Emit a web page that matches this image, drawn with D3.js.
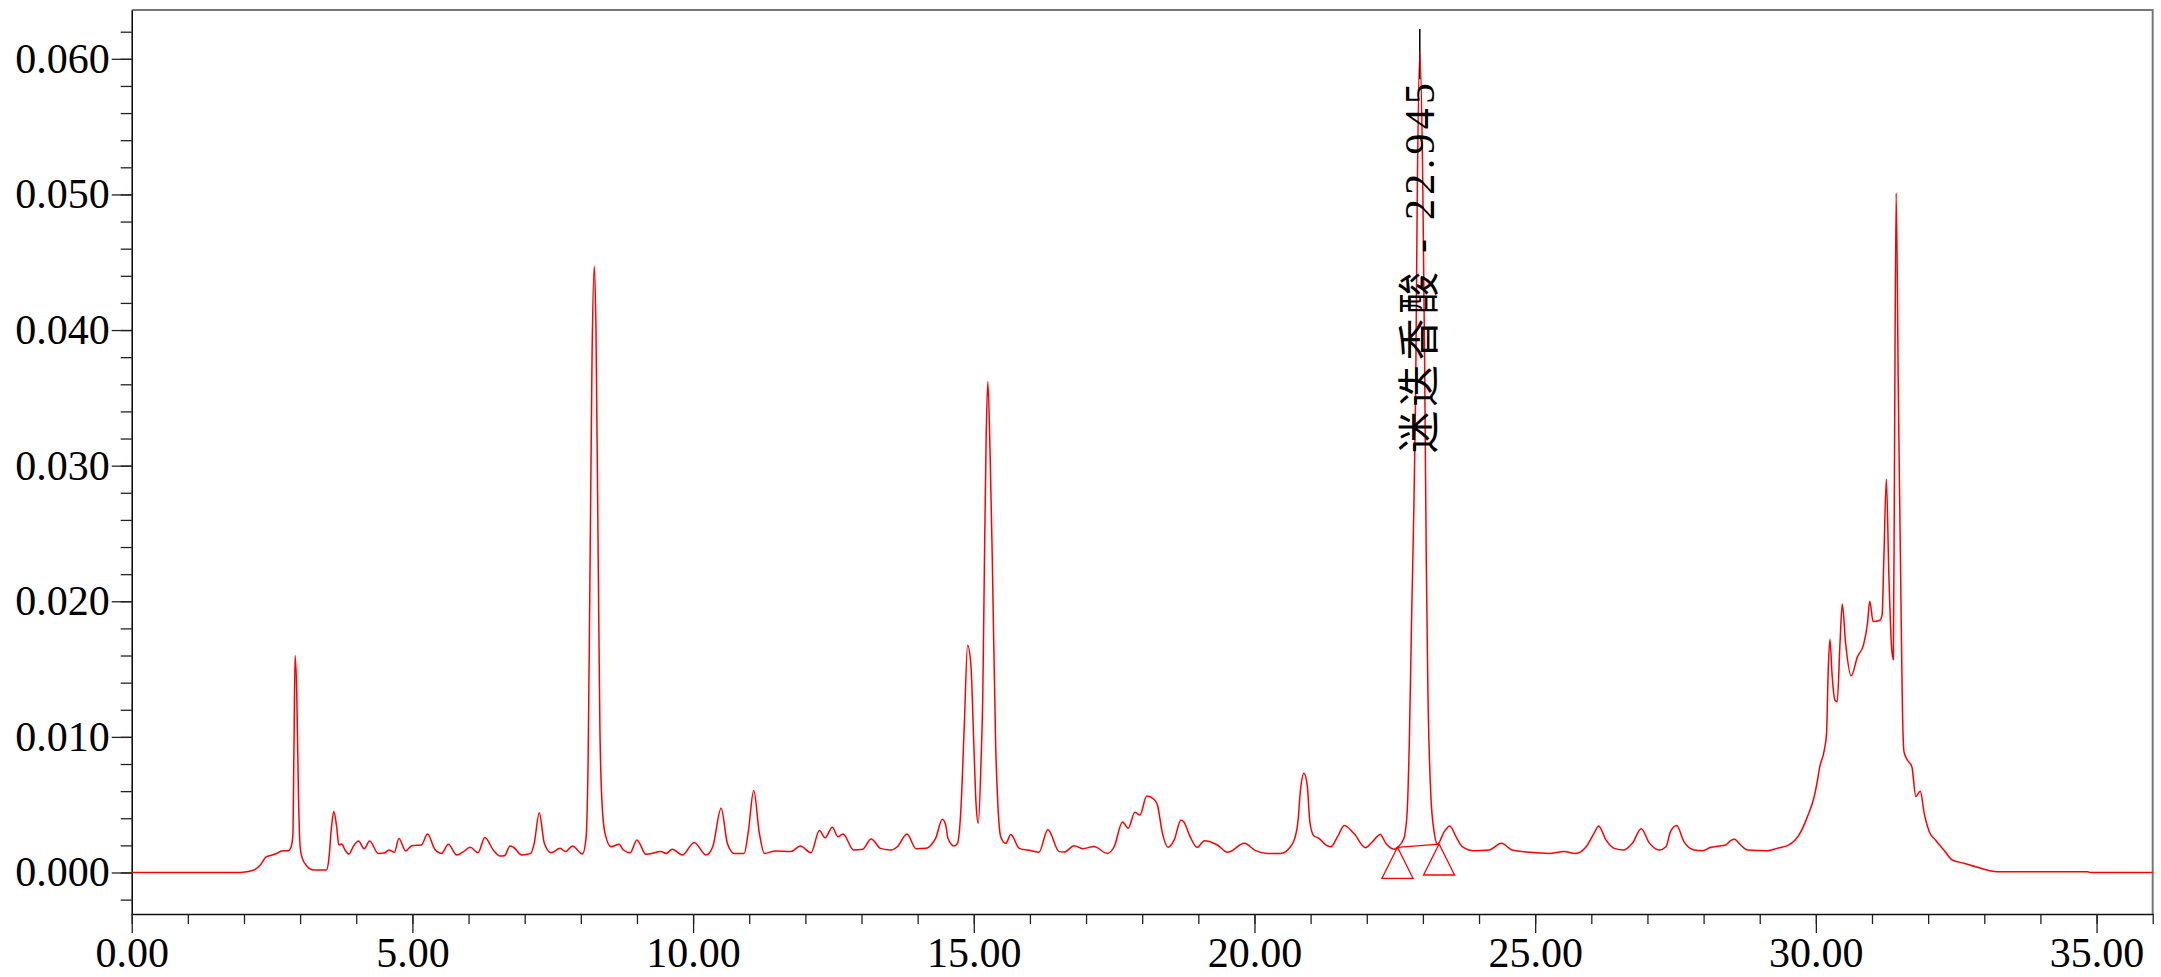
<!DOCTYPE html>
<html lang="zh">

<head>
    <meta charset="UTF-8">
    <title>Chromatogram</title>
    <style>
        body { margin: 0; background: #fff; }
    </style>
</head>

<body>
    <svg id="svg" width="2161" height="977"></svg>

    <script src="https://d3js.org/d3.v7.min.js"></script>
    <script>
        // retention time (min) and detector response (AU)
        const times = [
            0.00, 1.93, 2.05, 2.20, 2.29, 2.40, 2.49, 2.61, 2.67, 2.79, 2.84, 2.87, 2.89, 2.91, 2.94, 2.97,
            3.00, 3.04, 3.12, 3.24, 3.47, 3.51, 3.56, 3.60, 3.65, 3.69, 3.74, 3.80, 3.87, 3.95, 4.04, 4.14,
            4.24, 4.39, 4.51, 4.58, 4.68, 4.76, 4.88, 4.99, 5.16, 5.27, 5.40, 5.52, 5.64, 5.79, 5.91, 6.03,
            6.17, 6.29, 6.44, 6.56, 6.64, 6.74, 6.80, 6.95, 7.06, 7.11, 7.17, 7.26, 7.35, 7.47, 7.63, 7.73,
            7.85, 8.03, 8.09, 8.13, 8.16, 8.20, 8.24, 8.27, 8.31, 8.34, 8.37, 8.43, 8.54, 8.68, 8.76, 8.88,
            9.00, 9.16, 9.43, 9.52, 9.63, 9.81, 10.02, 10.23, 10.35, 10.50, 10.61, 10.73, 10.91, 10.98, 11.08, 11.18,
            11.27, 11.47, 11.74, 11.91, 12.10, 12.25, 12.35, 12.48, 12.58, 12.67, 12.86, 13.02, 13.17, 13.34, 13.52, 13.64,
            13.81, 13.97, 14.15, 14.24, 14.32, 14.44, 14.50, 14.54, 14.65, 14.71, 14.77, 14.83, 14.89, 14.95, 15.00, 15.04,
            15.08, 15.13, 15.16, 15.19, 15.22, 15.25, 15.29, 15.33, 15.39, 15.42, 15.48, 15.57, 15.66, 15.81, 16.02, 16.16,
            16.32, 16.52, 16.61, 16.79, 16.94, 17.14, 17.38, 17.50, 17.65, 17.75, 17.87, 17.96, 18.08, 18.21, 18.27, 18.36,
            18.46, 18.57, 18.69, 18.75, 18.84, 18.98, 19.11, 19.34, 19.52, 19.82, 20.02, 20.23, 20.47, 20.68, 20.77, 20.82,
            20.88, 20.94, 20.99, 21.06, 21.15, 21.27, 21.36, 21.48, 21.60, 21.77, 21.98, 22.10, 22.24, 22.34, 22.49, 22.55,
            22.66, 22.72, 22.76, 22.80, 22.83, 22.87, 22.90, 22.945, 23.00, 23.03, 23.06, 23.09, 23.14, 23.20, 23.26, 23.38,
            23.48, 23.59, 23.70, 23.91, 24.18, 24.40, 24.59, 24.92, 25.25, 25.51, 25.72, 25.90, 26.05, 26.13, 26.26, 26.41,
            26.58, 26.73, 26.89, 27.03, 27.21, 27.33, 27.41, 27.52, 27.65, 27.83, 27.98, 28.13, 28.27, 28.39, 28.48, 28.55,
            28.66, 28.78, 29.14, 29.31, 29.52, 29.70, 29.85, 29.97, 30.02, 30.07, 30.15, 30.19, 30.22, 30.25, 30.29, 30.34,
            30.38, 30.43, 30.47, 30.53, 30.63, 30.74, 30.85, 30.92, 30.96, 31.02, 31.14, 31.18, 31.21, 31.255, 31.30, 31.35,
            31.38, 31.40, 31.43, 31.47, 31.51, 31.54, 31.57, 31.63, 31.71, 31.78, 31.86, 31.93, 32.02, 32.13, 32.28, 32.43,
            32.64, 32.88, 33.23, 34.84, 34.89, 36.00
        ]
        const response = [
            0, 0, 0.00006, 0.00023, 0.00055, 0.00117, 0.00127, 0.00146, 0.00159, 0.00161, 0.0019, 0.0027, 0.009, 0.0160, 0.0132, 0.0058,
            0.0019, 0.00104, 0.00048, 0.00018, 0.00018, 0.00092, 0.0034, 0.00449, 0.0034, 0.00203, 0.0021, 0.00166, 0.00136, 0.00195, 0.00232, 0.00176,
            0.00232, 0.00141, 0.00146, 0.00166, 0.00149, 0.0025, 0.00159, 0.00198, 0.00203, 0.00284, 0.00171, 0.00141, 0.00208, 0.00129, 0.00154, 0.00186,
            0.00146, 0.00259, 0.00166, 0.00122, 0.00124, 0.00195, 0.00186, 0.00129, 0.00136, 0.00141, 0.00215, 0.00441, 0.00215, 0.00146, 0.00178, 0.00154,
            0.00195, 0.00136, 0.0024, 0.0083, 0.0206, 0.038, 0.0447, 0.040, 0.023, 0.0107, 0.0058, 0.0029, 0.0019, 0.00208, 0.00166, 0.00146,
            0.0024, 0.00134, 0.00154, 0.00141, 0.00171, 0.00129, 0.00222, 0.00129, 0.0019, 0.00473, 0.00215, 0.00141, 0.00141, 0.0029, 0.00604, 0.0029,
            0.00141, 0.00159, 0.00154, 0.00195, 0.00146, 0.00309, 0.00256, 0.00333, 0.00264, 0.00284, 0.00166, 0.00171, 0.00247, 0.00178, 0.00166, 0.0019,
            0.00284, 0.00176, 0.00178, 0.00203, 0.00252, 0.00392, 0.0035, 0.00252, 0.00195, 0.00215, 0.00461, 0.01076, 0.01675, 0.0152, 0.0095, 0.0051,
            0.00363, 0.0083, 0.013, 0.023, 0.032, 0.0362, 0.031, 0.023, 0.0093, 0.0058, 0.00264, 0.00215, 0.00281, 0.00178, 0.00161, 0.00149,
            0.00318, 0.00154, 0.00151, 0.00198, 0.00176, 0.00191, 0.00141, 0.0019, 0.00372, 0.00326, 0.00444, 0.00424, 0.00564, 0.0054, 0.0050, 0.0029,
            0.00186, 0.0024, 0.00387, 0.00368, 0.00277, 0.00186, 0.00235, 0.00203, 0.00149, 0.00215, 0.00161, 0.00141, 0.00141, 0.00215, 0.0036, 0.0061,
            0.00731, 0.0064, 0.0036, 0.00269, 0.00252, 0.00203, 0.0019, 0.00264, 0.00346, 0.00289, 0.00183, 0.00227, 0.00281, 0.00215, 0.00171, 0.00186,
            0.0025, 0.0045, 0.010, 0.019, 0.025, 0.035, 0.050, 0.0605, 0.050, 0.038, 0.023, 0.0132, 0.0058, 0.0030, 0.0021, 0.00301,
            0.00343, 0.00264, 0.00191, 0.00161, 0.00166, 0.00215, 0.00166, 0.00149, 0.00141, 0.00154, 0.00141, 0.00186, 0.0029, 0.00343, 0.0024, 0.00178,
            0.00166, 0.00215, 0.00323, 0.0022, 0.00166, 0.0019, 0.00301, 0.00346, 0.00227, 0.00166, 0.00161, 0.00186, 0.00195, 0.00203, 0.00235, 0.00245,
            0.00203, 0.00166, 0.00161, 0.00178, 0.00203, 0.00277, 0.00412, 0.0056, 0.0066, 0.0078, 0.00903, 0.01026, 0.0149, 0.0172, 0.0145, 0.0127,
            0.0126, 0.0169, 0.0198, 0.0169, 0.0145, 0.0159, 0.0168, 0.0184, 0.0200, 0.0185, 0.0186, 0.019, 0.023, 0.029, 0.022, 0.0165,
            0.0157, 0.030, 0.0501, 0.035, 0.022, 0.0125, 0.0089, 0.0083, 0.0078, 0.0056, 0.006, 0.00436, 0.00301, 0.0024, 0.00166, 0.00092,
            0.00068, 0.00038, 0.00006, 0.00006, 0, 0
        ]

        const xTicks = [0, 5, 10, 15, 20, 25, 30, 35]
        const xMinorTicks = d3.range(0, 37, 1)
        const yTicks = [0, 0.01, 0.02, 0.03, 0.04, 0.05, 0.06]
        const yMinorTicks = d3.range(-0.002, 0.0625, 0.002)

        // integrated peak: name, apex time, baseline start/end
        const peakName = '迷迭香酸'
        const peakTime = 22.945
        const baselineTimes = [22.547, 23.288]
        const baselineValues = [0.00186, 0.0021]

        const data = times.map((t, i) => ({ t: t, v: response[i] }))

        const plotLeft = 131.7, plotRight = 2152.7, plotTop = 10, plotBottom = 914
        const svg = d3.select('#svg')

        const xScale = d3.scaleLinear()
            .domain([0, 36])
            .range([plotLeft, plotRight])
        const yScale = d3.scaleLinear()
            .domain([-0.00306, 0.0636])
            .range([plotBottom, plotTop])

        // frame: top and right in grey
        svg.append('path')
            .attr('d', `M${plotLeft},${plotTop}H${plotRight}V${plotBottom}`)
            .attr('fill', 'none')
            .attr('stroke', '#777')
            .attr('stroke-width', 2)

        // minor ticks
        svg.append('g')
            .attr('transform', `translate(${plotLeft},0)`)
            .call(d3.axisLeft(yScale).tickValues(yMinorTicks).tickSize(11).tickFormat('').tickSizeOuter(0))
            .call(g => g.select('.domain').remove())
        svg.append('g')
            .attr('transform', `translate(0,${plotBottom})`)
            .call(d3.axisBottom(xScale).tickValues(xMinorTicks).tickSize(10).tickFormat('').tickSizeOuter(0))
            .call(g => g.select('.domain').remove())

        // major ticks and labels
        const yAxis = svg.append('g')
            .attr('transform', `translate(${plotLeft},0)`)
            .call(d3.axisLeft(yScale).tickValues(yTicks).tickSize(20).tickPadding(2)
                .tickFormat(d3.format('.3f')).tickSizeOuter(0))
        const xAxis = svg.append('g')
            .attr('transform', `translate(0,${plotBottom})`)
            .call(d3.axisBottom(xScale).tickValues(xTicks).tickSize(19)
                .tickFormat(d3.format('.2f')).tickSizeOuter(0))

        xAxis.selectAll('text').attr('y', 53).attr('dy', null)

        svg.selectAll('.tick line').attr('stroke', '#222').attr('stroke-width', 1.3)
        svg.selectAll('.domain').attr('stroke', '#111').attr('stroke-width', 1.6)
        svg.selectAll('.tick text')
            .attr('font-family', '"Liberation Serif", "DejaVu Serif", serif')
            .attr('font-size', 42)
            .attr('fill', '#000')

        // peak apex marker
        svg.append('line')
            .attr('x1', xScale(peakTime))
            .attr('x2', xScale(peakTime))
            .attr('y1', yScale(0.0622))
            .attr('y2', yScale(0.0585))
            .attr('stroke', '#000')
            .attr('stroke-width', 1.5)

        // chromatogram trace
        const line = d3.line()
            .x(d => xScale(d.t))
            .y(d => yScale(d.v))
            .curve(d3.curveMonotoneX)

        svg.append('path')
            .datum(data)
            .attr('d', line)
            .attr('fill', 'none')
            .attr('stroke', '#ff0000')
            .attr('stroke-width', 1.5)

        // integration baseline and its start/end triangles
        svg.append('line')
            .attr('x1', xScale(baselineTimes[0]))
            .attr('y1', yScale(baselineValues[0]))
            .attr('x2', xScale(baselineTimes[1]))
            .attr('y2', yScale(baselineValues[1]))
            .attr('stroke', '#ff0000')
            .attr('stroke-width', 1.3)

        svg.selectAll('.marker')
            .data(baselineTimes)
            .enter()
            .append('path')
            .attr('class', 'marker')
            .attr('d', (d, i) => {
                const x = xScale(d), y = yScale(baselineValues[i])
                return `M${x},${y}L${x - 15.5},${y + 31}L${x + 15.5},${y + 31}Z`
            })
            .attr('fill', 'none')
            .attr('stroke', '#ff0000')
            .attr('stroke-width', 1.3)

        // peak label, written upwards
        svg.append('text')
            .attr('transform', `translate(${xScale(peakTime) + 14},453) rotate(-90)`)
            .attr('font-family', '"Liberation Serif", "Noto Sans CJK SC", serif')
            .attr('font-size', 42)
            .attr('textLength', 370)
            .attr('lengthAdjust', 'spacing')
            .attr('fill', '#000')
            .text(peakName + ' - ' + peakTime.toFixed(3))
    </script>
</body>

</html>
